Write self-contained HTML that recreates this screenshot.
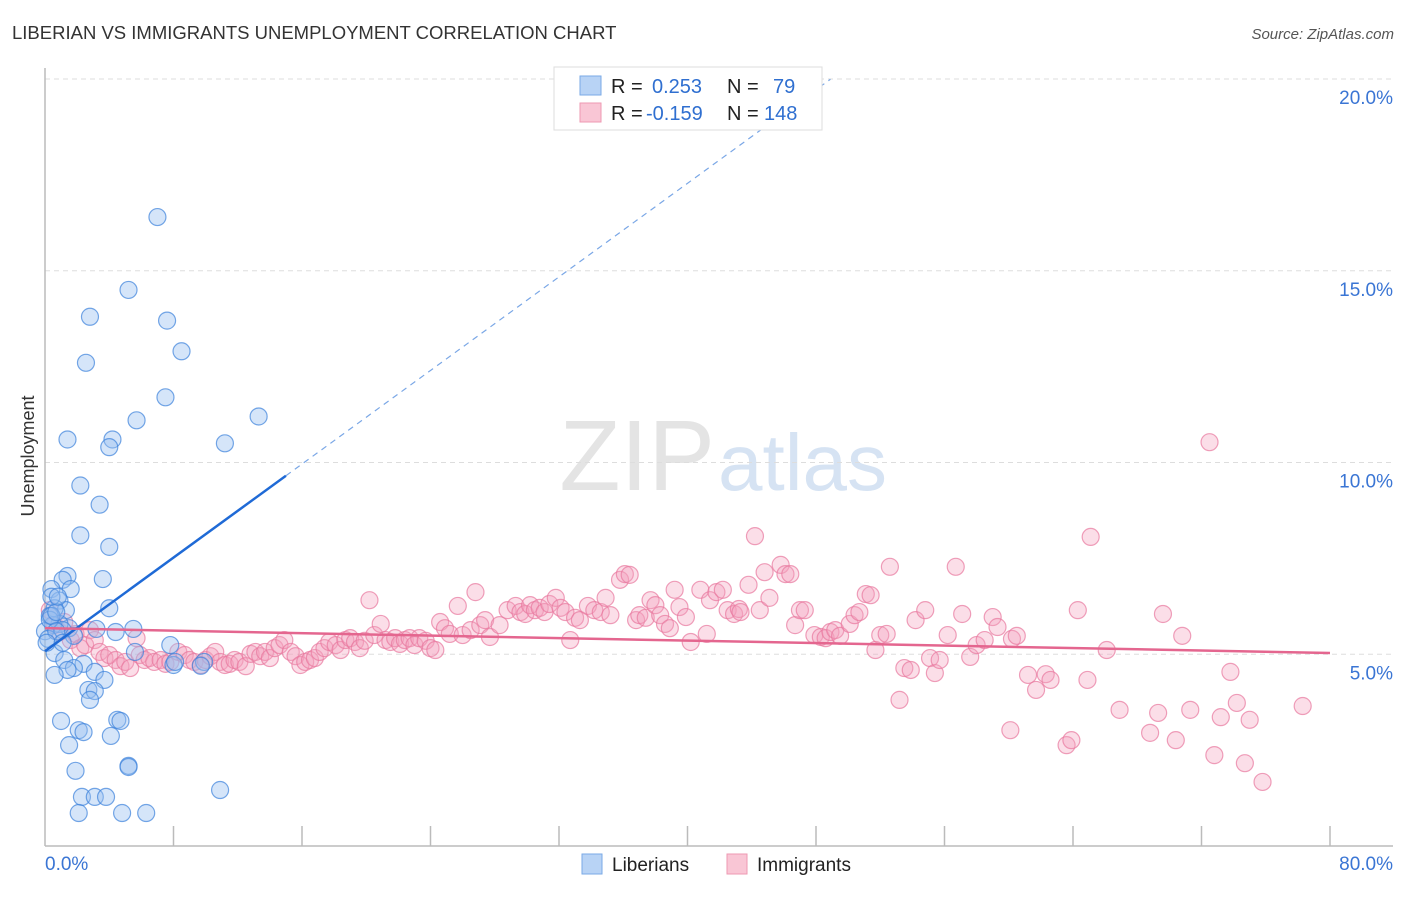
<!DOCTYPE html>
<html><head><meta charset="utf-8"><style>
body{margin:0;background:#fff;font-family:"Liberation Sans",sans-serif}
svg text{font-family:"Liberation Sans",sans-serif}
</style></head><body>
<svg id="c" width="1406" height="892" xmlns="http://www.w3.org/2000/svg">
<text x="12" y="39" font-size="18.5" fill="#333">LIBERIAN VS IMMIGRANTS UNEMPLOYMENT CORRELATION CHART</text>
<text x="1394" y="39" font-size="15" fill="#555" font-style="italic" text-anchor="end">Source: ZipAtlas.com</text>
<text x="715" y="490" font-size="100" fill="#e4e4e4" text-anchor="end" font-family="Liberation Serif">ZIP</text>
<text x="718" y="490" font-size="80" fill="#d6e3f3">atlas</text>
<g id="grid"></g><g id="axes"></g><g id="pts"></g><g id="trend"></g>
<text x="34" y="456" font-size="18" fill="#333" transform="rotate(-90 34 456)" text-anchor="middle">Unemployment</text>
<g>
<rect x="554" y="67" width="268" height="63" fill="#fff" stroke="#ddd"/>
<rect x="580" y="76" width="21" height="19" fill="#b8d3f5" stroke="#7aaae6"/>
<rect x="580" y="103" width="21" height="19" fill="#f9c6d5" stroke="#ee98b2"/>
<text x="611" y="93" font-size="20" fill="#222">R = <tspan fill="#2f6fd0" x="652">0.253</tspan><tspan fill="#222" x="727">N =</tspan><tspan fill="#2f6fd0" x="773">79</tspan></text>
<text x="611" y="120" font-size="20" fill="#222">R = <tspan fill="#2f6fd0" x="646">-0.159</tspan><tspan fill="#222" x="727">N =</tspan><tspan fill="#2f6fd0" x="764">148</tspan></text>
</g>
<g>
<rect x="582" y="854" width="20" height="20" fill="#b8d3f5" stroke="#7aaae6"/>
<text x="612" y="871" font-size="19" fill="#222">Liberians</text>
<rect x="727" y="854" width="20" height="20" fill="#f9c6d5" stroke="#ee98b2"/>
<text x="757" y="871" font-size="19" fill="#222">Immigrants</text>
</g>
</svg>
<script>
const yTicks=[5,10,15,20];
const xTickLabels=["0.0%","80.0%"];
const libX=[7.0,5.2,2.8,7.6,2.55,8.5,7.5,5.7,13.3,1.4,4.2,4.0,11.2,2.2,3.4,2.2,4.0,3.6,1.4,1.1,0.4,1.6,0.9,4.0,1.3,0.6,0.3,5.5,3.2,4.4,1.5,0.9,0.5,1.1,1.8,7.8,5.6,0.6,1.2,2.4,1.8,1.4,3.1,0.6,9.9,8.0,3.7,2.7,3.1,2.8,4.5,4.7,1.0,2.1,2.4,4.1,1.5,5.2,5.2,1.9,10.9,2.3,3.1,3.8,2.1,4.8,6.3,0,0.2,0.3,0.4,0.7,0.1,1.1,0.7,8.1,9.7,0.4,0.8];
const libY=[16.4,14.5,13.8,13.7,12.6,12.9,11.7,11.1,11.2,10.6,10.6,10.4,10.5,9.4,8.9,8.1,7.8,6.96,7.04,6.94,6.7,6.7,6.4,6.2,6.15,6.2,6.0,5.66,5.66,5.58,5.68,5.79,5.76,5.63,5.48,5.24,5.06,5.03,4.85,4.75,4.64,4.59,4.54,4.46,4.8,4.72,4.33,4.07,4.04,3.81,3.29,3.26,3.26,3.02,2.97,2.87,2.63,2.09,2.06,1.96,1.46,1.28,1.28,1.28,0.86,0.86,0.86,5.6,5.4,5.9,6.0,5.6,5.3,5.3,6.1,4.8,4.7,6.5,6.5];
const immX=[0.3,0.6,0.9,1.2,1.6,1.9,2.2,2.5,2.8,3.1,3.4,3.7,4.0,4.4,4.7,5.0,5.3,5.7,5.9,6.2,6.5,6.8,7.2,7.5,7.8,8.3,8.7,9.0,9.3,9.7,10.0,10.3,10.6,10.9,11.2,11.5,11.8,12.1,12.5,12.8,13.1,13.4,13.7,14.0,14.3,14.6,14.9,15.3,15.6,15.9,16.2,16.5,16.8,17.1,17.4,17.7,18.1,18.4,18.7,19.0,19.3,19.6,19.9,20.2,20.5,20.9,21.2,21.5,21.8,22.1,22.4,22.7,23.0,23.3,23.7,24.0,24.3,24.6,24.9,25.2,25.7,26.0,26.5,26.8,27.1,27.4,27.7,28.3,28.8,29.3,29.6,29.9,30.2,30.5,30.8,31.1,31.4,31.8,32.1,32.4,32.7,33.0,33.3,33.8,34.2,34.6,34.9,35.2,35.8,36.1,36.4,36.8,37.0,37.4,37.7,38.0,38.3,38.6,38.9,39.2,39.5,39.9,40.2,40.8,41.2,41.4,41.8,42.2,42.5,42.9,43.2,43.3,43.8,44.2,44.5,44.8,45.1,45.8,46.1,46.4,46.7,47.0,47.3,47.9,48.3,48.6,48.9,49.2,49.5,50.1,50.4,50.7,51.1,51.4,51.7,52.0,52.4,52.6,53.2,53.5,53.9,54.2,54.8,55.1,55.4,55.7,56.2,56.7,57.1,57.6,58.0,58.5,59.0,59.3,60.1,60.2,60.5,61.2,61.7,62.3,62.6,63.6,63.9,64.3,64.9,65.1,66.1,66.9,68.8,69.3,69.6,70.4,70.8,71.3,72.5,72.8,73.2,73.8,74.2,74.7,75.0,75.8,78.3];
const immY=[6.15,5.76,5.58,5.84,5.37,5.53,5.16,5.24,5.63,5.37,5.06,4.90,4.98,4.85,4.69,4.80,4.64,5.42,4.98,4.85,4.90,4.80,4.85,4.75,4.80,5.06,4.98,4.85,4.80,4.72,4.85,4.95,5.06,4.80,4.72,4.75,4.85,4.80,4.69,5.01,5.06,4.95,5.06,4.90,5.16,5.24,5.37,5.06,4.95,4.72,4.80,4.85,4.90,5.06,5.16,5.32,5.24,5.11,5.37,5.42,5.32,5.16,5.35,6.41,5.50,5.79,5.37,5.32,5.42,5.27,5.37,5.42,5.24,5.42,5.35,5.16,5.11,5.84,5.68,5.53,6.26,5.50,5.63,6.62,5.76,5.89,5.45,5.76,6.15,6.26,6.10,6.05,6.28,6.15,6.21,6.10,6.31,6.47,6.21,6.10,5.37,5.95,5.89,6.26,6.15,6.10,6.47,6.02,6.94,7.09,7.07,5.89,6.02,5.95,6.41,6.28,6.02,5.79,5.68,6.68,6.23,5.97,5.32,6.68,5.53,6.41,6.62,6.68,6.15,6.05,6.18,6.10,6.81,8.08,6.15,7.14,6.47,7.33,7.09,7.09,5.76,6.15,6.15,5.50,5.45,5.42,5.58,5.63,5.48,5.79,6.02,6.10,6.57,6.54,5.11,5.50,5.53,7.28,3.81,4.64,4.59,5.89,6.15,4.90,4.51,4.85,5.50,7.28,6.05,4.93,5.24,5.37,5.97,5.71,3.02,5.40,5.48,4.46,4.07,4.48,4.33,2.63,2.76,6.15,4.33,8.06,5.11,3.55,2.95,3.47,6.05,2.76,5.48,3.55,10.53,2.37,3.36,4.54,3.73,2.16,3.29,1.67,3.65];
const libTrend=[5.08,0.305];
const immTrend=[5.68,-0.0081];
const S="http://www.w3.org/2000/svg";
const X0=45,X1=1330,Y0=846,Y20=79;
const sx=v=>X0+(X1-X0)*v/80, sy=v=>Y0-(Y0-Y20)*v/20;
function mk(t,a,p){const e=document.createElementNS(S,t);for(const k in a)e.setAttribute(k,a[k]);p.appendChild(e);return e;}
const grid=document.getElementById('grid'),axes=document.getElementById('axes'),pts=document.getElementById('pts'),tr=document.getElementById('trend');
yTicks.forEach(v=>{
 const l=mk('line',{x1:X0,x2:1393,y1:sy(v),y2:sy(v),stroke:'#ddd','stroke-dasharray':'5,4'},grid);
 
 
 const t=mk('text',{x:1393,y:sy(v)+25,'font-size':19,fill:'#3a75d4','text-anchor':'end'},axes);
 t.textContent=v.toFixed(1)+'%';
 
 
});
mk('line',{x1:X0,x2:X0,y1:68,y2:Y0,stroke:'#bbb','stroke-width':1.5},axes);
mk('line',{x1:X0,x2:1393,y1:Y0,y2:Y0,stroke:'#bbb','stroke-width':1.5},axes);
for(let i=1;i<=10;i++){const xv=sx(i*8);mk('line',{x1:xv,x2:xv,y1:826,y2:Y0,stroke:'#bbb','stroke-width':1.5},axes);}
const xl0=mk('text',{x:45,y:870,'font-size':19,fill:'#3a75d4'},axes);xl0.textContent=xTickLabels[0];


const xl1=mk('text',{x:1393,y:870,'font-size':19,fill:'#3a75d4','text-anchor':'end'},axes);xl1.textContent=xTickLabels[1];


immX.forEach((x,i)=>{const c=mk('circle',{cx:sx(x),cy:sy(immY[i]),r:8.5,fill:'rgba(244,160,188,0.35)',stroke:'rgba(232,120,158,0.7)','stroke-width':1.2},pts);
 
 });
libX.forEach((x,i)=>{const c=mk('circle',{cx:sx(x),cy:sy(libY[i]),r:8.5,fill:'rgba(150,190,240,0.4)',stroke:'rgba(60,130,220,0.7)','stroke-width':1.2},pts);
 
 });
const [la,lb]=libTrend;
const l1=mk('line',{x1:sx(0),y1:sy(la),x2:sx(15),y2:sy(la+lb*15),stroke:'#1f6ad6','stroke-width':2.5},tr);


const l2=mk('line',{x1:sx(15),y1:sy(la+lb*15),x2:sx(48.9),y2:sy(la+lb*48.9),stroke:'#7aa7e6','stroke-width':1.2,'stroke-dasharray':'6,5'},tr);


const [ia,ib]=immTrend;
const l3=mk('line',{x1:sx(0),y1:sy(ia),x2:sx(80),y2:sy(ia+ib*80),stroke:'#e4668f','stroke-width':2.5},tr);


</script>
</body></html>
